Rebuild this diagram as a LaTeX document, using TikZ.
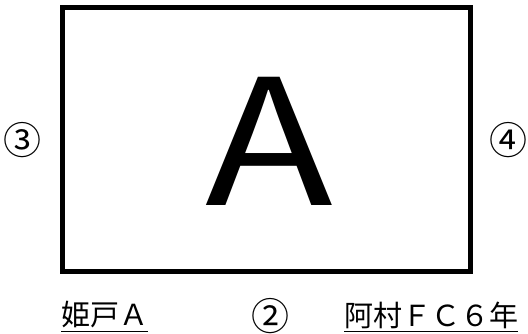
\documentclass[tikz,border=0pt]{standalone}
\usepackage{fontspec}
\newfontfamily\jpfont{Noto Sans CJK JP}
\usetikzlibrary{positioning}

\begin{document}
\begin{tikzpicture}[
		x=1pt, y=-1pt,
		% Styling for the playing field outline
		fieldstyle/.style={draw=black, line width=5pt, inner sep=0pt, minimum width=408pt, minimum height=263.5pt},
		% Typography for the labels around the field
		courtlabel/.style={font=\jpfont\fontsize{38}{38}\selectfont, inner sep=0pt},
		teamlabel/.style={font=\jpfont\fontsize{29}{29}\selectfont, inner sep=0pt, anchor=west},
		bigletter/.style={font=\jpfont\fontsize{175}{175}\selectfont, inner sep=0pt, xscale=1.2}
		]
		\useasboundingbox (0,0) rectangle (528,334);
		
		% =========================================================================
		% FIELD
		% =========================================================================
		\node[fieldstyle] (field) at (266,139.25) {};
		\node[bigletter] (courtA) at (269,141) {A};
		
		% =========================================================================
		% SIDE NUMBERS
		% =========================================================================
		\node[courtlabel] (sidethree) at (23,140) {③};
		\node[courtlabel] (sidefour) at (508,140) {④};
		\node[courtlabel] (sidetwo) at (270,316) {②};
		
		% =========================================================================
		% TEAM NAMES (UNDERLINED)
		% =========================================================================
		\node[teamlabel] (himeto) at (61,315) {姫戸Ａ};
		\node[teamlabel] (amura) at (344,315) {阿村ＦＣ６年};
		\draw[line width=1.5pt] ([yshift=-3pt]himeto.south west) -- ([yshift=-3pt]himeto.south east);
		\draw[line width=1.5pt] ([yshift=-3pt]amura.south west) -- ([yshift=-3pt]amura.south east);
		
	\end{tikzpicture}
\end{document}
